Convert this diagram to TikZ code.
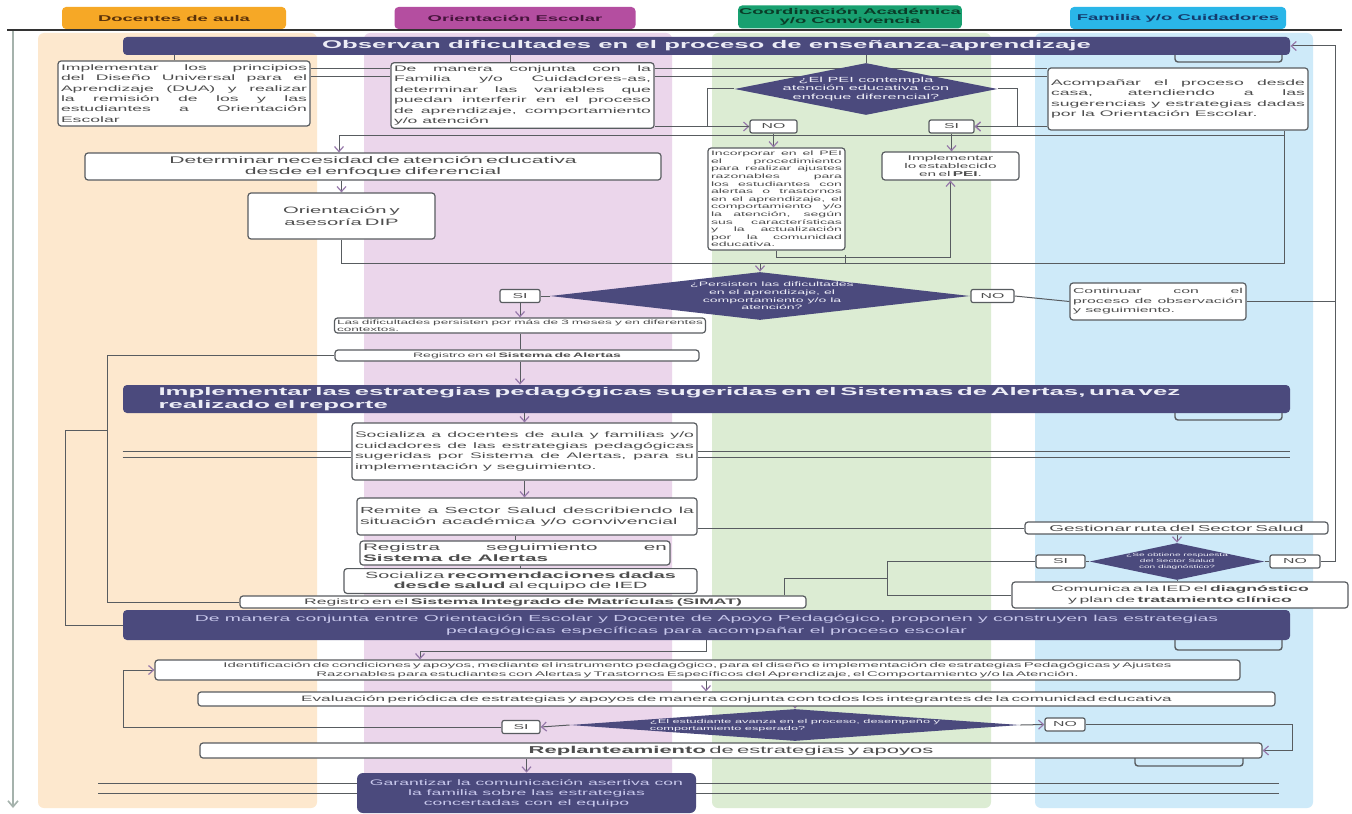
\documentclass[tikz,border=0pt]{standalone}
\usepackage{fontspec}
\setmainfont{Liberation Sans}
\newfontfamily\txtfont[FakeStretch=2.2]{Liberation Sans}
\newfontfamily\barfont[FakeStretch=2.3]{Liberation Sans}
\usetikzlibrary{shapes.geometric,arrows.meta}

\definecolor{barc}{RGB}{75,74,125}
\definecolor{bartxt}{RGB}{236,236,246}
\definecolor{bartxtb}{RGB}{200,200,236}
\definecolor{lnc}{RGB}{88,92,96}
\definecolor{txtc}{RGB}{78,78,78}
\definecolor{arrc}{RGB}{150,120,170}
\definecolor{laneA}{RGB}{253,232,206}
\definecolor{laneB}{RGB}{235,214,235}
\definecolor{laneC}{RGB}{220,236,211}
\definecolor{laneD}{RGB}{206,234,249}
\definecolor{tabA}{RGB}{246,168,38}
\definecolor{tabB}{RGB}{180,78,160}
\definecolor{tabC}{RGB}{24,160,112}
\definecolor{tabD}{RGB}{42,182,232}
\definecolor{tabAt}{RGB}{90,50,10}
\definecolor{tabBt}{RGB}{70,20,60}
\definecolor{tabCt}{RGB}{10,60,40}
\definecolor{tabDt}{RGB}{20,60,110}
\definecolor{bordc}{RGB}{165,178,172}

\pgfdeclarelayer{bg}
\pgfdeclarelayer{wires}
\pgfsetlayers{bg,wires,main}

\newcommand{\fsz}[2]{\fontsize{#1pt}{#2pt}\selectfont}
\hyphenpenalty=10000
\exhyphenpenalty=10000

\tikzset{
  tabbox/.style={fill=#1, rounded corners=2pt, inner sep=0.5pt, align=center, font=\txtfont\bfseries\fsz{4.2}{4.6}},
  bar/.style={fill=barc, rounded corners=2pt, inner sep=0pt, text=bartxt},
  box/.style={draw=lnc, fill=white, line width=0.6pt, rounded corners=1.5pt, inner sep=1.5pt, align=justify, text=txtc, font=\txtfont\fsz{4}{5.2}},
  dec/.style={diamond, fill=barc, inner sep=0pt},
  dectxt/.style={text=bartxt, align=center, inner sep=0pt, font=\txtfont\fsz{3.2}{3.8}},
  yn/.style={draw=lnc, fill=white, line width=0.6pt, rounded corners=1pt, inner sep=0pt, text=txtc, font=\txtfont\fsz{3.6}{4}, minimum width=#1, minimum height=6.5pt},
  yn/.default=22pt,
  line/.style={draw=lnc, line width=0.5pt},
  arr/.style={line, -{Straight Barb[length=2.5pt,width=4.5pt,line width=0.6pt,color=arrc]}},
  brk/.style={draw=lnc, line width=0.7pt, rounded corners=1.5pt},
}

\begin{document}
\begin{tikzpicture}[x=0.5pt,y=-0.5pt]
\useasboundingbox (0,0) rectangle (1352,813);
\begin{pgfonlayer}{bg}
  \fill[white] (0,0) rectangle (1352,813);
  \fill[laneA, rounded corners=3pt] (38,33) rectangle (317,808);
  \fill[laneB, rounded corners=3pt] (364,33) rectangle (672,808);
  \fill[laneC, rounded corners=3pt] (712,33) rectangle (991,808);
  \fill[laneD, rounded corners=3pt] (1035,33) rectangle (1313,808);
\end{pgfonlayer}

% lane headers
\node[tabbox=tabA, text=tabAt, minimum width=112pt, minimum height=11pt] (tdoc) at (174,18) {Docentes de aula};
\node[tabbox=tabB, text=tabBt, minimum width=120.5pt, minimum height=11pt] (tori) at (515,18) {Orientación Escolar};
\node[tabbox=tabC, text=tabCt, minimum width=111.5pt, minimum height=11.5pt] (tcoo) at (850,17) {Coordinación Académica\\y/o Convivencia};
\node[tabbox=tabD, text=tabDt, minimum width=108pt, minimum height=11pt] (tfam) at (1178,18) {Familia y/o Cuidadores};
\draw[line width=1.3pt, black!80] (7,30) -- (1342,30);
\draw[bordc, line width=0.8pt, -{Straight Barb[length=3pt,width=5pt]}] (13,31) -- (13,808);

% observacion
\node[bar, minimum width=583.5pt, minimum height=9pt, font=\barfont\bfseries\fsz{5.6}{7}] (bar1) at (706.5,46) {Observan dificultades en el proceso de enseñanza-aprendizaje};
\node[box, minimum width=126pt, minimum height=32.5pt, text width=123pt] (boxA) at (184,93.5) {Implementar los principios del Diseño Universal para el Aprendizaje (DUA) y realizar la remisión de los y las estudiantes a Orientación Escolar};
\node[box, minimum width=131.5pt, minimum height=32.5pt, text width=128.5pt] (boxB) at (522.5,95.5) {De manera conjunta con la Familia y/o Cuidadores-as, determinar las variables que puedan interferir en el proceso de aprendizaje, comportamiento y/o atención};
\node[dec, minimum width=131.5pt, minimum height=26pt, label={[dectxt, font=\txtfont\fsz{3.7}{4.2}]center:{¿El PEI contempla\\atención educativa con\\enfoque diferencial?}}] (pei) at (866,89) {};
\node[yn=23.5pt] (no1) at (773.5,126.5) {NO};
\node[yn=22.5pt] (si1) at (951.5,126.5) {SI};
\node[box, minimum width=130pt, minimum height=31pt, text width=127pt] (boxC) at (1178,99) {Acompañar el proceso desde casa, atendiendo a las sugerencias y estrategias dadas por la Orientación Escolar.};
\node[box, minimum width=288pt, minimum height=13.5pt, text width=285pt, align=center, font=\txtfont\fsz{4.8}{5.5}] (boxD) at (373,166.5) {Determinar necesidad de atención educativa\\desde el enfoque diferencial};
\node[box, minimum width=93.5pt, minimum height=23pt, text width=90pt, align=center, font=\txtfont\fsz{4.6}{6}] (boxE) at (341.5,216) {Orientación y\\asesoría DIP};
\node[box, minimum width=68.5pt, minimum height=49pt, text width=65.5pt, font=\txtfont\fsz{3.2}{3.8}] (boxF) at (776.5,199) {Incorporar en el PEI el procedimiento para realizar ajustes razonables para los estudiantes con alertas o trastornos en el aprendizaje, el comportamiento y/o la atención, según sus características y la actualización por la comunidad educativa.};
\node[box, minimum width=68.5pt, minimum height=14pt, text width=65.5pt, align=center, font=\txtfont\fsz{3.5}{4.2}] (boxG) at (950.5,166) {Implementar lo establecido en el \textbf{PEI}.};

% persistencia
\node[dec, minimum width=210pt, minimum height=24pt, label={[dectxt, xshift=6pt]center:{¿Persisten las dificultades\\en el aprendizaje, el\\comportamiento y/o la\\atención?}}] (d2) at (760,296) {};
\node[yn=20pt] (si2) at (520,296) {SI};
\node[yn=21.5pt] (no2) at (992.5,296) {NO};
\node[box, minimum width=88pt, minimum height=18.5pt, text width=85pt, font=\txtfont\fsz{3.6}{4.8}] (cont) at (1158,301.5) {Continuar con el proceso de observación y seguimiento.};
\node[box, minimum width=185.5pt, minimum height=7.5pt, text width=183pt, inner sep=0.6pt, font=\txtfont\fsz{3.1}{3.5}] (boxL) at (520,325.5) {Las dificultades persisten por más de 3 meses y en diferentes contextos.};
\node[box, minimum width=182pt, minimum height=5.5pt, text width=179pt, inner sep=0.6pt, align=center, font=\txtfont\fsz{3.2}{4}] (boxR) at (517,355.5) {Registro en el \textbf{Sistema de Alertas}};

% alertas
\node[bar, minimum width=583.5pt, minimum height=14pt, text width=548pt, align=left, font=\barfont\bfseries\fsz{5.6}{6.8}] (bar2) at (706.5,399) {Implementar las estrategias pedagógicas sugeridas en el Sistemas de Alertas, una vez\\realizado el reporte};
\node[box, minimum width=172.5pt, minimum height=28.5pt, text width=169.5pt] (boxS) at (524.5,451.5) {Socializa a docentes de aula y familias y/o cuidadores de las estrategias pedagógicas sugeridas por Sistema de Alertas, para su implementación y seguimiento.};
\node[box, minimum width=170pt, minimum height=18.5pt, text width=167pt, font=\txtfont\fsz{4.4}{5.4}] (boxRm) at (527,516.5) {Remite a Sector Salud describiendo la situación académica y/o convivencial};
\node[box, minimum width=155pt, minimum height=12pt, text width=152pt, font=\txtfont\fsz{4.7}{5.4}] (boxRg) at (515,553) {Registra seguimiento en\linebreak\textbf{Sistema de Alertas}};
\node[box, minimum width=176.5pt, minimum height=11pt, text width=173.5pt, align=center, font=\txtfont\fsz{4.5}{5.2}] (boxSr) at (520.5,581) {Socializa \textbf{recomendaciones dadas}\\\textbf{desde salud} al equipo de IED};
\node[box, minimum width=283pt, minimum height=6pt, text width=280pt, inner sep=0.5pt, align=center, font=\txtfont\fsz{4}{5}] (sinat) at (523,602) {Registro en el \textbf{Sistema Integrado de Matrículas (SIMAT)}};
\node[box, minimum width=151.5pt, minimum height=6pt, text width=148pt, inner sep=0.5pt, align=center, font=\txtfont\fsz{4.3}{5}] (gest) at (1176.5,528) {Gestionar ruta del Sector Salud};
\node[dec, minimum width=87.5pt, minimum height=18.5pt, label={[dectxt, font=\txtfont\fsz{2.3}{2.9}]center:{¿Se obtiene respuesta\\del Sector Salud\\con diagnóstico?}}] (dsal) at (1177,561.5) {};
\node[yn=24.5pt] (si3) at (1060.5,561.5) {SI};
\node[yn=25pt] (no3) at (1295,561.5) {NO};
\node[box, minimum width=168pt, minimum height=13pt, text width=165pt, align=center, font=\txtfont\fsz{4}{5.6}] (com) at (1180,595) {Comunica a la IED el \textbf{diagnóstico}\\y plan de \textbf{tratamiento clínico}};

% estrategias
\node[bar, minimum width=583.5pt, minimum height=15pt, align=center, text=bartxtb, font=\txtfont\fsz{4.4}{6}] (bar3) at (706.5,625) {De manera conjunta entre Orientación Escolar y Docente de Apoyo Pedagógico, proponen y construyen las estrategias\\pedagógicas específicas para acompañar el proceso escolar};
\node[box, minimum width=542.5pt, minimum height=10pt, text width=539pt, inner sep=0.8pt, align=center, font=\txtfont\fsz{3.4}{4.4}] (ident) at (697.5,670) {Identificación de condiciones y apoyos, mediante el instrumento pedagógico, para el diseño e implementación de estrategias Pedagógicas y Ajustes\\Razonables para estudiantes con Alertas y Trastornos Específicos del Aprendizaje, el Comportamiento y/o la Atención.};
\node[box, minimum width=538.5pt, minimum height=7pt, text width=535pt, inner sep=0.6pt, align=center, font=\txtfont\fsz{3.9}{4.5}] (eval) at (736.5,699) {Evaluación periódica de estrategias y apoyos de manera conjunta con todos los integrantes de la comunidad educativa};
\node[dec, minimum width=225pt, minimum height=16pt, label={[dectxt, align=left, font=\txtfont\fsz{2.9}{3.5}]center:{¿El estudiante avanza en el proceso, desempeño y\\comportamiento esperado?}}] (d3) at (795,725) {};
\node[yn=19pt] (si4) at (521,727) {SI};
\node[yn=20pt] (no4) at (1065,724.5) {NO};
\node[box, minimum width=531pt, minimum height=7.5pt, text width=528pt, inner sep=0.6pt, align=center, font=\txtfont\fsz{5}{5.6}] (repl) at (731,750.5) {\textbf{Replanteamiento} de estrategias y apoyos};
\node[bar, minimum width=169.5pt, minimum height=20pt, rounded corners=3pt, align=center, text=bartxtb, font=\txtfont\fsz{4}{5}] (gar) at (526.5,793) {Garantizar la comunicación asertiva con\\la familia sobre las estrategias\\concertadas con el equipo};

\begin{pgfonlayer}{wires}
  \draw[line] ([xshift=-5pt]boxA.north) -- ([xshift=-5pt]boxA.north |- bar1.south);
  \draw[line] ([xshift=-6pt]boxB.north) -- ([xshift=-6pt]boxB.north |- bar1.south);
  \draw[line] (pei.north) -- (pei.north |- bar1.south);
  \foreach \yy in {69,77} {
    \draw[line] (boxA.east |- 0,\yy) -- (boxB.west |- 0,\yy);
    \draw[line] (boxB.east |- 0,\yy) -- (boxC.west |- 0,\yy);
  }
  \draw[arr] (pei.west) -- ++(-27,0) |- (no1.west);
  \draw[arr] (pei.east) -- ++(20,0) |- (si1.east);
  \draw[line] (boxB.east |- no1.west) -- (no1.west);
  \draw[arr] (boxC.west |- si1.east) -- (si1.east);
  \draw[arr] (no1.south) -- (no1.south |- boxF.north);
  \draw[arr] (si1.south) -- (si1.south |- boxG.north);
  \draw[arr] (boxF.south) -- ++(0,7) -| (boxG.south);
  \draw[line] (845,255) -- (845,263);
  \draw[line] (boxE.south) |- (1284,263) -- (1284,0 |- boxC.south);
  \draw[arr] (1284,135) -| ([xshift=-17pt]boxD.north);
  \draw[arr] (boxD.south -| boxE.north) -- (boxE.north);
  \draw[arr] (d2.north |- 0,263) -- (d2.north);
  \draw[line] (d2.west) -- (si2.east);
  \draw[line] (d2.east) -- (no2.west);
  \draw[line] (no2.east) -- (cont.west);
  \draw[line] (cont.east) -- (1335,0 |- cont.east);
  \draw[arr] (si2.south) -- (si2.south |- boxL.north);
  \draw[line] (boxL.south -| si2.south) -- (boxR.north -| si2.south);
  \draw[line] (boxR.west) -- (107,0 |- boxR.west) |- (sinat.west);
  \draw[line] (107,430) -- (65,430) |- (bar3.west);
  \draw[arr] (boxR.south -| si2.south) -- (bar2.north -| si2.south);
  \draw[arr] (bar2.south -| boxS.north) -- (boxS.north);
  \foreach \yy in {451,457} {
    \draw[line] (bar2.west |- 0,\yy) -- (boxS.west |- 0,\yy);
    \draw[line] (boxS.east |- 0,\yy) -- (bar2.east |- 0,\yy);
  }
  \draw[arr] (boxS.south) -- (boxS.south |- boxRm.north);
  \draw[line] (boxRm.south -| boxRg.north) -- (boxRg.north);
  \draw[line] (boxRg.south -| boxSr.north) -- (boxSr.north);
  \draw[line] (gest.west -| boxRm.east) -- (gest.west);
  \draw[arr] (gest.south -| dsal.north) -- (dsal.north);
  \draw[line] (dsal.west) -- (si3.east);
  \draw[line] (dsal.east) -- (no3.west);
  \draw[arr] (no3.east) -- (1335,0 |- no3.east) |- (bar1.east);
  \draw[line] (dsal.south) -- (dsal.south |- com.north);
  \draw[line] (si3.west) -- (887,0 |- si3.west) |- (com.west);
  \draw[line] (887,578) -| ([xshift=-11pt]sinat.north east);
  \draw[arr] (bar3.south) |- (420,651) -- (420,0 |- ident.north);
  \draw[arr] (ident.south -| 706,0) -- (eval.north -| 706,0);
  \draw[arr] (eval.south -| d3.north) -- (d3.north);
  \draw[arr] (d3.west) -- (si4.east);
  \draw[arr] (si4.west) -- (123,0 |- si4.west) |- (ident.west);
  \draw[arr] (d3.east) -- (no4.west);
  \draw[arr] (no4.east) -- (1292,0 |- no4.east) |- (repl.east);
  \draw[arr] (repl.south -| gar.north) -- (gar.north);
  \foreach \yy in {783,793} {
    \draw[line] (98,\yy) -- (gar.west |- 0,\yy);
    \draw[line] (gar.east |- 0,\yy) -- (1279,\yy);
  }
\end{pgfonlayer}
\foreach \ya/\yb in {55/62,413/420,640/650}
  \draw[brk] (1175,\ya) |- (1282,\yb) -- (1282,\ya);
\draw[brk] (1135,758) |- (1243,766) -- (1243,758);
\end{tikzpicture}
\end{document}
